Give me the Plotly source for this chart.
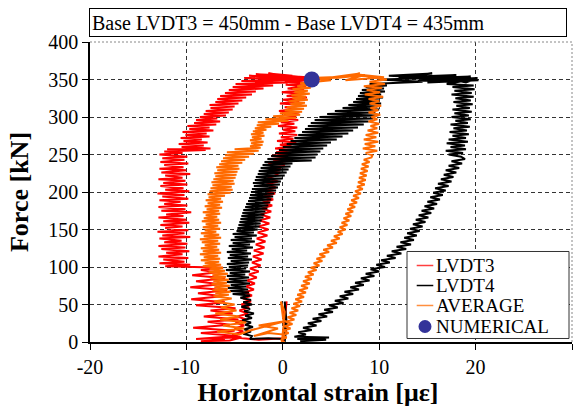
import plotly.graph_objects as go

# ---------------- data (strain [µε], force [kN]) ----------------
lvdt3_points = [
    (0.0, 0), (0.3, 20), (0.1, 40), (0.4, 54), (0.2, 30), (0.0, 5), (-2.5, 3), (-5.0, 6),
    (-9.0, 4), (-4.8, 8), (-8.5, 12), (-5.0, 15), (-9.3, 19), (-5.5, 23), (-7.8, 27), (-4.6, 30),
    (-8.2, 34), (-5.2, 38), (-7.5, 42), (-4.9, 45), (-9.0, 49), (-6.0, 53), (-9.5, 57), (-6.3, 61),
    (-8.8, 65), (-5.8, 69), (-9.6, 73), (-6.5, 77), (-9.0, 81), (-6.0, 85), (-9.4, 89), (-6.8, 93),
    (-8.5, 96), (-6.2, 99),
    (-12.2, 101), (-9.6, 103), (-12.8, 105), (-10.2, 107), (-12.4, 110), (-9.8, 112), (-12.9, 114),
    (-10.4, 117), (-12.1, 119), (-9.7, 121), (-12.6, 124), (-10.1, 126), (-12.9, 128), (-9.9, 131),
    (-12.3, 133), (-10.5, 135), (-12.8, 138), (-9.6, 140), (-12.5, 142), (-10.2, 145), (-13.0, 147),
    (-9.8, 149), (-12.2, 152), (-10.4, 154), (-12.7, 156), (-9.7, 159), (-12.4, 161), (-10.0, 163),
    (-12.9, 166), (-10.3, 168), (-12.1, 170), (-9.5, 173), (-12.6, 175), (-10.1, 177), (-12.9, 180),
    (-9.9, 182), (-12.3, 184), (-10.6, 187), (-12.8, 189), (-9.8, 191), (-12.5, 194), (-10.2, 196),
    (-13.0, 198), (-9.7, 201), (-12.2, 203), (-10.3, 205), (-12.7, 208), (-9.9, 210), (-12.4, 212),
    (-10.1, 215), (-12.9, 217), (-10.4, 219), (-12.2, 222), (-9.6, 224), (-12.6, 226), (-10.0, 229),
    (-12.8, 231), (-10.3, 233), (-12.3, 236), (-9.8, 238), (-12.7, 240), (-10.2, 243), (-12.5, 245),
    (-9.9, 247), (-12.8, 250), (-10.4, 252), (-12.3, 254), (-8.0, 256), (-12.0, 257), (-7.5, 258),
    (-10.5, 260), (-8.2, 262), (-10.8, 264), (-7.8, 266), (-10.3, 268), (-8.4, 270), (-10.6, 272),
    (-7.6, 274), (-10.1, 276), (-7.9, 278), (-10.4, 280), (-7.2, 282), (-9.7, 284), (-7.6, 286),
    (-9.9, 288), (-6.9, 290), (-9.2, 292), (-6.5, 294), (-9.0, 296), (-6.8, 298), (-8.6, 300),
    (-5.9, 302), (-8.2, 304), (-5.6, 306), (-8.0, 308), (-5.2, 310), (-7.5, 312), (-5.0, 314),
    (-7.6, 316), (-4.6, 318), (-7.0, 320), (-4.2, 322), (-6.8, 324), (-3.8, 326), (-6.5, 328),
    (-3.2, 330), (-6.0, 332), (-2.8, 334), (-5.6, 336), (-2.0, 338), (-5.2, 340), (-1.0, 342),
    (-4.9, 344), (0.5, 346), (-4.3, 348),
    (1.5, 350), (-4.0, 352), (2.0, 351), (-3.5, 355), (2.6, 353), (-2.8, 357), (1.0, 355),
    (-1.5, 358), (2.8, 352), (-2.0, 354), (2.5, 349), (0.2, 347), (2.8, 345),
    (0.3, 343), (2.4, 341), (0.5, 338), (2.2, 336), (-0.1, 333), (1.9, 331), (0.4, 328), (2.5, 326),
    (0.0, 323), (1.7, 321), (-0.3, 318), (1.9, 316), (0.2, 313), (1.5, 311), (-0.4, 308), (1.7, 306),
    (0.1, 303), (1.4, 301), (-0.3, 298), (1.6, 296), (-0.2, 293), (1.2, 291), (-0.5, 288), (1.5, 286),
    (0.0, 283), (1.3, 281), (-0.4, 278), (1.5, 276), (-0.2, 273), (1.1, 271), (-0.6, 268), (1.4, 266),
    (-0.3, 263), (0.9, 261), (-0.8, 258), (1.2, 256), (-0.7, 253), (0.6, 251), (-1.2, 248), (0.4, 246),
    (-1.0, 243), (0.3, 241), (-1.5, 238), (0.2, 236), (-1.3, 233), (-0.2, 231), (-1.6, 228), (-0.3, 226),
    (-0.8, 222), (-1.6, 218), (-0.5, 214), (-1.7, 210), (-0.7, 206), (-1.9, 202), (-0.8, 198),
    (-2.0, 194), (-1.0, 190), (-2.1, 186), (-1.1, 182), (-2.2, 178), (-1.2, 174), (-2.3, 170),
    (-1.3, 166), (-2.4, 162), (-1.4, 158), (-2.5, 154), (-1.5, 150), (-2.6, 146), (-1.6, 142),
    (-2.7, 138), (-1.8, 134), (-2.8, 130), (-1.9, 126), (-3.0, 122), (-2.0, 118), (-3.1, 114),
    (-2.2, 110), (-3.2, 106), (-2.3, 102), (-3.4, 98), (-2.5, 94), (-3.5, 90), (-2.7, 86), (-3.7, 82),
    (-2.9, 78), (-3.8, 74), (-3.0, 70), (-4.0, 66), (-3.2, 62), (-4.1, 58), (-3.3, 54), (-4.3, 50),
    (-3.5, 46), (-4.5, 42), (-3.6, 38), (-4.7, 34), (-3.8, 30), (-4.9, 26), (-4.0, 22), (-5.0, 18),
    (-4.1, 14), (-5.2, 10), (-4.3, 6), (-5.5, 2), (-8.5, 1), (-6.0, 3),
]

lvdt4_points = [
    (0.2, 0), (0.4, 25), (0.2, 54), (0.3, 30), (0.1, 4), (-1.5, 5), (-3.4, 4),
    (-3.2, 8), (-4.1, 11), (-3.3, 14), (-4.0, 17), (-3.1, 20), (-3.9, 23), (-3.3, 26), (-4.2, 29),
    (-3.2, 32), (-3.9, 35), (-3.0, 38), (-4.0, 41), (-3.4, 44), (-4.3, 47), (-3.2, 50), (-4.1, 53),
    (-3.3, 56), (-4.4, 59),
    (-3.4, 62), (-5.2, 64), (-3.5, 66), (-5.5, 68), (-3.6, 70), (-5.7, 72), (-3.8, 74), (-5.4, 76),
    (-3.4, 78), (-5.8, 80), (-3.7, 82), (-5.6, 84), (-3.5, 86), (-5.8, 88), (-3.9, 90), (-5.5, 92),
    (-3.4, 94), (-5.9, 96), (-3.8, 98), (-5.6, 100), (-3.6, 102), (-5.8, 104), (-3.5, 106), (-5.4, 108),
    (-3.2, 110), (-5.7, 112), (-3.6, 114), (-5.5, 116), (-3.3, 118), (-5.8, 120), (-3.7, 122),
    (-5.3, 124), (-3.1, 126), (-5.6, 128), (-3.4, 130), (-5.2, 132), (-2.9, 134), (-5.4, 136),
    (-3.2, 138), (-5.0, 140), (-2.7, 142), (-5.2, 144), (-3.0, 146), (-4.8, 148),
    (-2.6, 150), (-4.7, 152), (-2.4, 154), (-4.6, 156), (-2.3, 158), (-4.5, 160), (-2.2, 162),
    (-4.4, 164), (-2.0, 166), (-4.3, 168), (-1.9, 170), (-4.2, 172), (-1.8, 174), (-4.1, 176),
    (-1.6, 178), (-3.9, 180), (-1.5, 182), (-3.8, 184), (-1.3, 186), (-3.6, 188), (-1.2, 190),
    (-3.5, 192), (-1.0, 194), (-3.4, 196), (-0.9, 198), (-3.3, 200), (-0.7, 202), (-3.2, 204),
    (-0.5, 206), (-3.0, 208), (-0.3, 210), (-3.1, 212), (-0.2, 214), (-2.9, 216), (0.0, 218),
    (-2.8, 220), (0.2, 222), (-2.6, 224), (0.4, 226), (-2.5, 228), (0.6, 230), (-2.3, 232),
    (0.8, 234), (-2.1, 236), (1.0, 238), (-1.9, 240),
    (3.0, 242), (-1.6, 244), (3.4, 246), (-1.2, 248), (3.6, 250), (-0.8, 252), (3.9, 254),
    (-0.4, 256), (4.2, 258), (0.0, 260), (4.6, 262), (0.4, 264), (5.0, 266), (0.8, 268), (5.6, 270),
    (1.2, 272), (6.2, 274), (1.6, 276), (6.8, 278), (2.0, 280), (7.3, 282), (2.3, 284), (7.8, 286),
    (2.6, 288), (8.4, 290), (2.9, 292), (8.9, 294), (3.3, 296), (9.4, 298), (3.8, 300), (9.8, 302),
    (4.6, 304), (9.6, 306), (5.4, 308), (10.0, 310), (6.2, 312), (9.8, 314), (6.8, 316), (10.2, 318),
    (7.3, 320), (10.0, 322), (7.6, 324), (10.4, 326), (7.8, 328), (10.2, 330), (8.0, 332),
    (10.6, 334), (8.2, 336), (10.5, 338), (8.6, 340), (10.8, 342),
    (9.0, 344), (14.5, 347), (10.0, 350), (16.0, 352), (11.0, 355), (15.5, 358), (12.0, 353),
    (18.0, 356), (13.0, 351), (19.5, 354), (14.0, 348), (20.2, 352), (15.0, 346), (20.3, 349),
    (16.5, 353), (19.0, 346), (20.0, 351), (17.0, 344),
    (19.8, 342), (17.6, 340), (19.9, 337), (17.8, 335), (19.6, 332), (17.5, 330), (19.8, 327),
    (17.9, 325), (19.5, 322), (17.7, 320), (19.7, 317), (18.0, 315), (19.4, 312), (17.6, 310),
    (19.6, 307), (17.8, 305), (19.3, 302), (17.5, 300), (19.5, 297), (17.9, 295), (19.2, 292),
    (17.4, 290), (19.4, 287), (17.7, 285), (19.1, 282), (17.3, 280), (19.3, 277), (17.6, 275),
    (19.0, 272), (17.2, 270), (19.2, 267), (17.0, 265), (18.9, 262), (17.4, 260), (19.0, 257),
    (16.9, 255), (18.7, 252), (17.2, 250), (18.5, 247),
    (18.9, 244), (17.5, 241), (18.6, 238), (17.2, 235), (18.3, 232), (16.9, 229), (18.0, 226),
    (16.7, 223), (17.7, 220), (16.4, 217), (17.5, 214), (16.1, 211), (17.2, 208), (15.8, 205),
    (16.9, 202), (15.6, 199), (16.6, 196), (15.3, 193), (16.3, 190), (15.0, 187), (16.0, 184),
    (14.7, 181), (15.7, 178), (14.4, 175), (15.4, 172), (14.1, 169), (15.1, 166), (13.8, 163),
    (14.8, 160), (13.5, 157), (14.5, 154), (13.2, 151), (14.2, 148), (12.9, 145), (13.9, 142),
    (12.6, 139), (13.6, 136), (12.2, 133), (13.3, 130), (11.8, 127), (12.8, 124), (11.3, 121),
    (12.3, 118), (10.8, 115), (11.7, 112), (10.2, 109), (11.1, 106), (9.7, 103), (10.6, 100),
    (9.1, 97), (10.0, 94), (8.6, 91), (9.5, 88), (8.1, 85), (9.0, 82), (7.5, 79), (8.4, 76),
    (7.0, 73), (7.9, 70), (6.4, 67), (7.3, 64), (5.9, 61), (6.8, 58), (5.4, 55), (6.3, 52),
    (4.8, 49), (5.7, 46), (4.3, 43), (5.2, 40), (3.7, 37), (4.6, 34), (3.1, 31), (4.0, 28),
    (2.6, 25), (3.5, 22), (2.1, 19), (3.0, 16), (1.6, 13), (2.4, 10), (1.2, 7), (4.8, 6),
    (1.5, 4), (4.5, 3), (1.8, 1),
]

average_points = [
    (-0.1, 0), (0.1, 25), (-0.2, 54), (0.2, 40), (0.0, 10), (-1.5, 12), (-3.0, 8), (-0.5, 18),
    (-2.5, 22), (0.3, 28), (-3.5, 15), (-4.5, 10),
    (-6.8, 14), (-4.0, 18), (-6.2, 22), (-3.8, 26), (-6.5, 30), (-4.5, 34), (-7.0, 38), (-4.8, 42),
    (-6.4, 46), (-5.0, 50), (-7.1, 54), (-5.3, 58),
    (-7.2, 61), (-5.6, 63), (-7.0, 65), (-5.4, 67), (-7.3, 69), (-5.7, 71), (-7.1, 73), (-5.5, 75),
    (-7.4, 77), (-5.8, 79), (-7.2, 81), (-5.6, 83), (-7.5, 85), (-5.9, 87), (-7.3, 89), (-5.7, 91),
    (-7.7, 93), (-6.0, 95), (-7.6, 97), (-6.2, 99), (-8.3, 101), (-6.4, 103), (-8.1, 105),
    (-6.6, 107), (-8.5, 109), (-6.5, 111), (-8.2, 113), (-6.7, 115), (-8.6, 117), (-6.4, 119),
    (-8.3, 121), (-6.6, 123), (-8.5, 125), (-6.8, 127), (-8.1, 129), (-6.5, 131), (-8.4, 133),
    (-6.7, 135), (-8.6, 137), (-6.4, 139), (-8.2, 141), (-6.6, 143), (-8.5, 145), (-6.9, 147),
    (-8.1, 149), (-6.5, 151), (-8.3, 153), (-6.7, 155), (-8.0, 157), (-6.4, 159), (-8.4, 161),
    (-6.6, 163), (-8.2, 165), (-6.8, 167), (-8.0, 169), (-6.5, 171), (-8.3, 173), (-6.6, 175),
    (-7.9, 177), (-6.3, 179), (-8.1, 181), (-6.5, 183), (-7.8, 185), (-6.2, 187), (-8.0, 189),
    (-6.4, 191), (-7.7, 193), (-6.0, 195),
    (-7.8, 197), (-5.4, 199), (-7.6, 201), (-5.2, 203), (-7.5, 205), (-5.3, 207), (-7.3, 209),
    (-5.0, 211), (-7.4, 213), (-5.1, 215), (-7.2, 217), (-4.9, 219), (-7.0, 221), (-4.8, 223),
    (-7.1, 225), (-4.7, 227), (-6.8, 229), (-4.5, 231), (-6.9, 233), (-4.6, 235), (-6.6, 237),
    (-4.2, 239), (-6.4, 241), (-3.9, 243), (-6.2, 245), (-3.5, 247), (-6.0, 249), (-3.0, 251),
    (-5.8, 253), (-2.5, 255), (-5.0, 257), (-2.3, 259),
    (-3.4, 261), (-2.1, 263), (-3.3, 265), (-2.0, 267), (-3.4, 269), (-2.2, 271), (-3.2, 273),
    (-1.9, 275), (-3.3, 277), (-2.0, 279), (-3.1, 281), (-1.7, 283), (-2.9, 285), (-1.2, 287),
    (-2.7, 289), (-0.4, 291),
    (-2.6, 293), (0.6, 295), (-1.8, 297), (1.4, 299), (-1.0, 301), (1.8, 303), (-0.3, 305),
    (2.0, 307), (0.2, 309), (2.2, 311),
    (0.4, 313), (2.5, 315), (0.8, 317), (2.3, 319), (0.6, 321), (2.6, 323), (1.0, 325), (2.4, 327),
    (0.9, 329), (2.8, 331), (1.2, 333), (2.6, 335), (1.0, 337), (2.9, 339), (1.5, 341), (3.0, 343),
    (1.8, 345),
    (5.0, 349), (2.8, 352), (7.0, 354), (4.0, 351), (8.0, 358), (5.5, 352), (8.5, 356), (6.5, 349),
    (10.5, 353), (7.5, 357), (10.8, 350), (9.0, 347), (10.6, 344),
    (8.4, 341), (10.3, 339), (8.7, 336), (10.1, 333), (8.5, 330), (10.4, 327), (8.9, 324),
    (10.0, 321), (9.0, 318), (10.2, 315), (9.1, 312), (9.9, 309), (8.9, 306), (10.1, 303), (9.2, 300),
    (9.8, 297), (8.9, 294), (10.0, 291), (9.1, 288), (9.8, 285), (8.8, 282), (9.9, 279), (8.6, 276),
    (9.7, 273), (8.4, 270), (9.9, 267), (8.5, 264), (9.6, 261), (8.3, 258), (9.8, 255), (8.6, 252),
    (9.3, 249),
    (9.2, 246), (8.4, 243), (9.0, 240), (8.2, 237), (8.9, 234), (8.1, 231), (8.8, 228), (8.0, 225),
    (8.7, 222), (7.9, 219), (8.6, 216), (7.8, 213), (8.5, 210), (7.7, 207), (8.3, 204), (7.5, 201),
    (8.1, 198), (7.3, 195), (7.9, 192), (7.1, 189), (7.7, 186), (6.9, 183), (7.5, 180), (6.7, 177),
    (7.3, 174), (6.5, 171), (7.1, 168), (6.3, 165), (6.9, 162), (6.1, 159), (6.7, 156), (5.9, 153),
    (6.5, 150), (5.7, 147), (6.2, 144), (5.3, 141), (5.9, 138), (5.0, 135), (5.6, 132), (4.6, 129),
    (5.2, 126), (4.2, 123), (4.8, 120), (3.8, 117), (4.4, 114), (3.5, 111), (4.1, 108), (3.2, 105),
    (3.8, 102), (2.9, 99), (3.5, 96), (2.6, 93), (3.2, 90), (2.3, 87), (3.0, 84), (2.1, 81),
    (2.8, 78), (1.9, 75), (2.6, 72), (1.7, 69), (2.4, 66), (1.5, 63), (2.2, 60), (1.3, 57),
    (2.0, 54), (1.1, 51), (1.8, 48), (0.9, 45), (1.6, 42), (0.7, 39), (1.4, 36), (0.5, 33),
    (1.2, 30), (0.3, 27), (1.0, 24), (0.2, 21), (0.8, 18), (0.0, 15), (0.6, 12), (-0.1, 9),
    (0.4, 6), (-0.2, 3), (0.2, 0),
]

numerical_strain = [3.0]
numerical_force = [350]

series_names = ["LVDT3", "LVDT4", "AVERAGE", "NUMERICAL"]
title_text = "Base LVDT3 = 450mm - Base LVDT4 = 435mm"
x_ticks = [-20, -10, 0, 10, 20, 30]
x_tick_labels = ["-20", "-10", "0", "10", "20", "30"]
y_ticks = [0, 50, 100, 150, 200, 250, 300, 350, 400]
y_tick_labels = ["0", "50", "100", "150", "200", "250", "300", "350", "400"]

# ---------------- styles ----------------
FONT = "Liberation Serif"
colors = {"LVDT3": "#ff0000", "LVDT4": "#000000", "AVERAGE": "#ff6a00", "NUMERICAL": "#333399"}

fig = go.Figure()
for name, pts in [("LVDT3", lvdt3_points), ("LVDT4", lvdt4_points), ("AVERAGE", average_points)]:
    fig.add_trace(go.Scatter(
        x=[p[0] for p in pts], y=[p[1] for p in pts], mode="lines", name=name,
        line=dict(color=colors[name], width=2), showlegend=False, hoverinfo="skip"))
fig.add_trace(go.Scatter(
    x=numerical_strain, y=numerical_force, mode="markers", name="NUMERICAL",
    marker=dict(color=colors["NUMERICAL"], size=16), showlegend=False))

axis_common = dict(
    showgrid=True, gridcolor="#333333", gridwidth=1, griddash="4px,3px",
    zeroline=False, showline=True, linecolor="black", linewidth=1.5,
    ticks="outside", ticklen=6, tickcolor="black", tickwidth=1,
    tickfont=dict(family=FONT, size=20, color="black"),
)
fig.update_xaxes(range=[-20, 30], tickvals=x_ticks, ticktext=x_tick_labels,
                 title=dict(text="<b>Horizontal strain [με]</b>&nbsp;&nbsp;&nbsp;&nbsp;",
                            font=dict(family=FONT, size=26, color="black"), standoff=4),
                 **axis_common)
fig.update_yaxes(range=[0, 400], tickvals=y_ticks, ticktext=y_tick_labels,
                 title=dict(text="<b>Force [kN]</b>", font=dict(family=FONT, size=26, color="black"), standoff=12),
                 **axis_common)

shapes = [
    dict(type="line", xref="paper", yref="paper", x0=0, x1=1, y0=1, y1=1, line=dict(color="#888888", width=1, dash="2px,2px")),
    dict(type="line", xref="paper", yref="paper", x0=1, x1=1, y0=0, y1=1, line=dict(color="#888888", width=1, dash="2px,2px")),
    dict(type="rect", xref="paper", yref="paper", x0=0.6577, x1=0.9938, y0=0.0117, y1=0.3017,
         line=dict(color="#333333", width=1), fillcolor="white", layer="above"),
]
legend_rows = [0.255, 0.1883, 0.1217, 0.0517]
annotations = [
    dict(text=title_text, xref="paper", yref="paper", x=-0.002, y=1.065, xanchor="left", yanchor="middle",
         showarrow=False, font=dict(family=FONT, size=20, color="black"), bordercolor="black", borderwidth=1,
         borderpad=2, bgcolor="white", width=472, height=23, align="left"),
]
for name, ry in zip(series_names, legend_rows):
    if name == "NUMERICAL":
        shapes.append(dict(type="circle", xref="paper", yref="paper", xsizemode="pixel", ysizemode="pixel",
                           xanchor=0.6950, yanchor=ry, x0=-6.5, x1=6.5, y0=-6.5, y1=6.5,
                           fillcolor=colors[name], line=dict(color=colors[name], width=0), layer="above"))
    else:
        shapes.append(dict(type="line", xref="paper", yref="paper", x0=0.6778, x1=0.7122, y0=ry, y1=ry,
                           line=dict(color=colors[name], width=1.5), opacity=0.75 if name != "LVDT4" else 1, layer="above"))
    annotations.append(dict(text=name, xref="paper", yref="paper", x=0.716, y=ry, xanchor="left", yanchor="middle",
                            showarrow=False, borderpad=0, font=dict(family=FONT, size=19, color="black")))

fig.update_layout(
    width=581, height=412, margin=dict(l=90, r=9, t=42, b=70, autoexpand=False),
    paper_bgcolor="white", plot_bgcolor="white", showlegend=False,
    font=dict(family=FONT),
    shapes=shapes, annotations=annotations,
)
fig.write_html("out.html")
